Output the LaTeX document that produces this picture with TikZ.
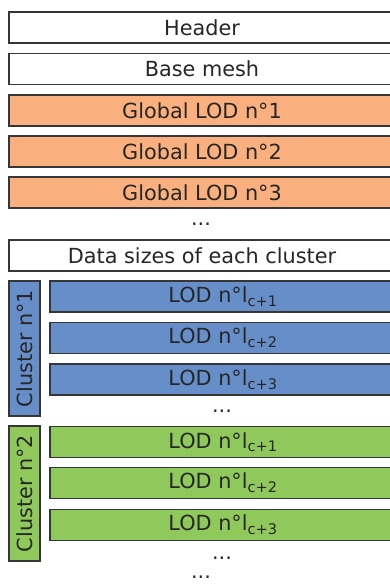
\documentclass[tikz,border=0pt]{standalone}
\usepackage{fontspec}
\setmainfont{DejaVu Sans}
\usetikzlibrary{positioning}

\definecolor{boxline}{HTML}{363636}
\definecolor{txt}{HTML}{262626}
\definecolor{orangelod}{HTML}{F9B07E}
\definecolor{bluelod}{HTML}{668FCA}
\definecolor{greenlod}{HTML}{8FC95C}

\begin{document}
\begin{tikzpicture}[
  x=1pt, y=1pt,
  font=\fontsize{20.8}{24}\selectfont,
  box/.style={draw=boxline, line width=1.2pt, minimum height=31pt, inner sep=0pt, text=txt},
  row/.style={box, minimum width=386pt},
  lod/.style={box, minimum width=346pt},
  side/.style={box, minimum width=135pt, rotate=90},
  dots/.style={text=txt, inner sep=1pt}
]
  \useasboundingbox (0,0) rectangle (389,-584);

  % file header and global levels
  \node[row, fill=white] (hdr) at (202,-27.5) {Header};
  \node[row, fill=white] (base) at (202,-69) {Base mesh};
  \foreach \i/\y in {1/110.5, 2/151.5, 3/192.5} {
    \node[row, fill=orangelod] (glob\i) at (202,-\y) {Global LOD n°\i};
  }
  \node[dots] (dotsglob) at (201,-224) {...};
  \node[row, fill=white] (sizes) at (202,-255.5) {Data sizes of each cluster};

  % cluster 1
  \node[side, fill=bluelod] (clA) at (24.5,-348.5) {Cluster n°1};
  \foreach \i/\y in {1/296.5, 2/338, 3/379.5} {
    \node[lod, fill=bluelod] (clA\i) at (223,-\y) {LOD n°l\textsubscript{c+\i}};
  }
  \node[dots] (dotsA) at (222,-411) {...};

  % cluster 2
  \node[side, fill=greenlod] (clB) at (24.5,-493.5) {Cluster n°2};
  \foreach \i/\y in {1/442, 2/483, 3/525} {
    \node[lod, fill=greenlod] (clB\i) at (223,-\y) {LOD n°l\textsubscript{c+\i}};
  }
  \node[dots] (dotsB) at (222,-558) {...};
  \node[dots] (dotsend) at (201,-577) {...};
\end{tikzpicture}
\end{document}
